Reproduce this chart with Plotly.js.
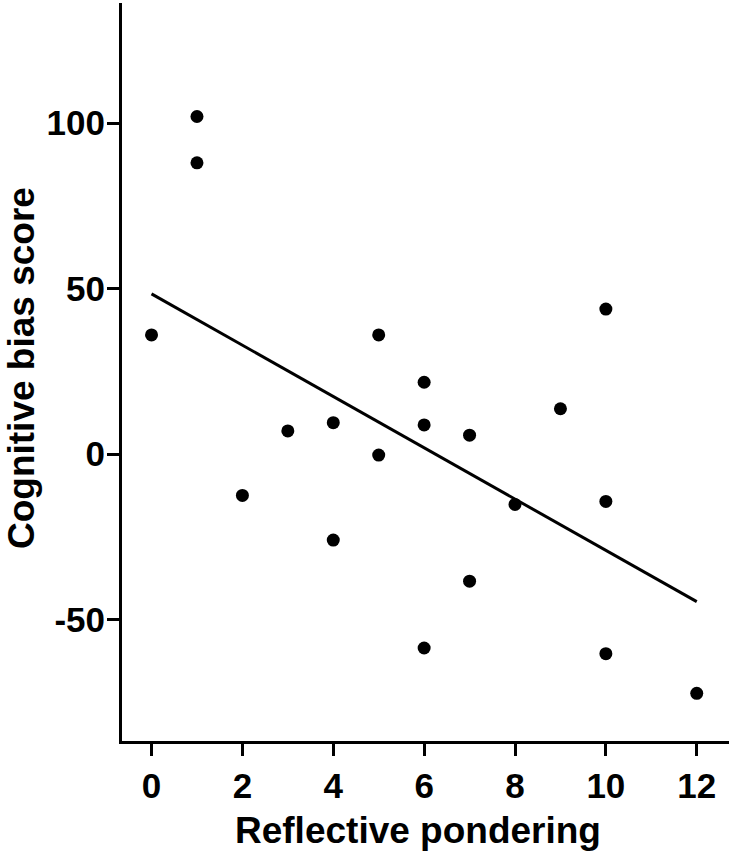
<!DOCTYPE html>
<html>
<head>
<meta charset="utf-8">
<script src="https://cdn.plot.ly/plotly-3.0.1.min.js"></script>
<style>html,body{margin:0;padding:0;background:#fff;}#chart{width:729px;height:860px;}</style>
</head>
<body>
<div id="chart"></div>
<script>
const reflectivePondering = [0, 1, 1, 2, 3, 4, 4, 5, 5, 6, 6, 6, 7, 7, 8, 9, 10, 10, 10, 12];
const cognitiveBiasScore = [36, 102, 88, -12.5, 7, 9.5, -26, 36, -0.3, 21.7, 8.8, -58.6, 5.7, -38.4, -15.2, 13.7, 43.8, -14.3, -60.3, -72.3];
const fitX = [0, 12];
const fitY = [48.4, -44.6];
const xTicks = [0, 2, 4, 6, 8, 10, 12];
const yTicks = [-50, 0, 50, 100];
const xTitle = 'Reflective pondering';
const yTitle = 'Cognitive bias score';

const font = 'Liberation Sans, Arial, sans-serif';
const yRange = [-86.7, 136.3];
const data = [
  {x: fitX, y: fitY, mode: 'lines', type: 'scatter', line: {color: '#000', width: 3}, hoverinfo: 'skip'},
  {x: reflectivePondering, y: cognitiveBiasScore, mode: 'markers', type: 'scatter',
   marker: {color: '#000', size: 13}},
  {x: [null], y: [null], yaxis: 'y2', type: 'scatter', mode: 'markers', showlegend: false, hoverinfo: 'skip'}
];
const tickFont = {family: font, size: 35, color: '#000', weight: 'bold'};
const axisCommon = {
  showline: true, linecolor: '#000', linewidth: 3, mirror: false,
  ticks: 'outside', ticklen: 12, tickwidth: 3, tickcolor: '#000',
  showgrid: false, zeroline: false,
  tickfont: tickFont
};
const layout = {
  width: 729, height: 860,
  margin: {l: 122, r: 0, t: 3, b: 119},
  paper_bgcolor: '#fff', plot_bgcolor: '#fff',
  showlegend: false,
  xaxis: Object.assign({}, axisCommon, {range: [-0.65, 12.71], tickvals: xTicks, ticktext: xTicks.map(String)}),
  yaxis: Object.assign({}, axisCommon, {range: yRange, tickvals: yTicks, showticklabels: false}),
  yaxis2: {overlaying: 'y', side: 'left', range: yRange, tickvals: yTicks, ticktext: yTicks.map(String),
           showline: false, showgrid: false, zeroline: false, ticks: 'outside', ticklen: 9,
           tickcolor: 'rgba(0,0,0,0)', tickfont: tickFont},
  annotations: [
    {text: '<b>' + xTitle + '</b>', xref: 'paper', yref: 'paper', x: (418 - 122) / 607, y: (741 - 830) / 738,
     xanchor: 'center', yanchor: 'middle', showarrow: false, font: {family: font, size: 37, color: '#000'}},
    {text: '<b>' + yTitle + '</b>', xref: 'paper', yref: 'paper', x: (21 - 122) / 607, y: (741 - 368) / 738,
     xanchor: 'center', yanchor: 'middle', textangle: -90, showarrow: false, font: {family: font, size: 37, color: '#000'}}
  ]
};
Plotly.newPlot('chart', data, layout, {displayModeBar: false, staticPlot: true});
</script>
</body>
</html>
